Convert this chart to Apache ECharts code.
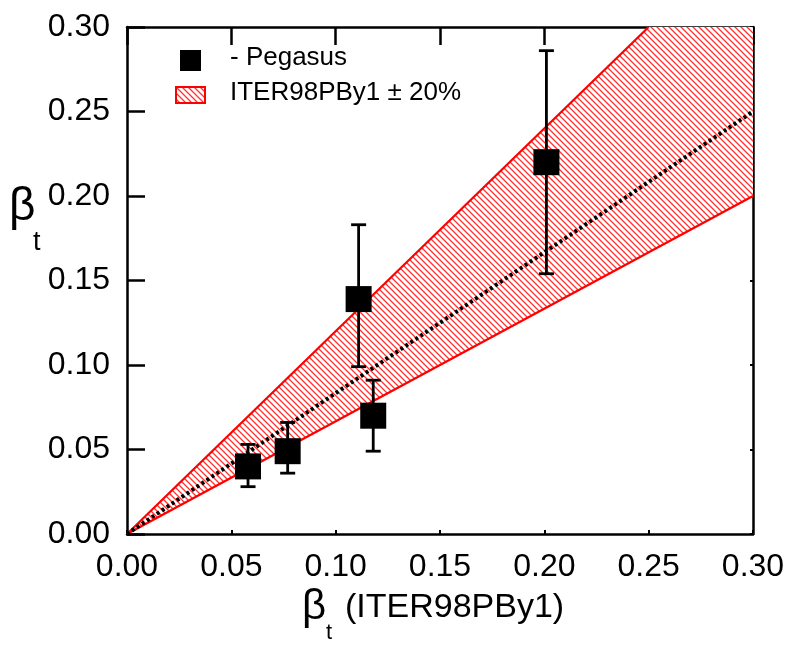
<!DOCTYPE html>
<html><head><meta charset="utf-8">
<script src="https://cdn.jsdelivr.net/npm/echarts@6/dist/echarts.min.js"></script>
<style>html,body{margin:0;padding:0;background:#fff}#c{width:788px;height:646px}</style>
</head><body><div id="c"></div>
<script>
// ---- data ----
const xTicks = [0, 0.05, 0.10, 0.15, 0.20, 0.25, 0.30];
const yTicks = [0, 0.05, 0.10, 0.15, 0.20, 0.25, 0.30];
const pegX = [0.058, 0.077, 0.111, 0.118, 0.201];
const pegY = [0.040, 0.049, 0.139, 0.070, 0.220];
const pegLow = [0.028, 0.036, 0.099, 0.049, 0.154];
const pegHigh = [0.053, 0.066, 0.183, 0.091, 0.286];
const bandX = [0, 0.25, 0.30];
const bandUpper = [0, 0.30, 0.30];
const bandLowerX = [0, 0.30];
const bandLower = [0, 0.20];
const centerX = [0, 0.30];
const centerY = [0, 0.25];

const FONT = 'Liberation Sans, Arial, Helvetica, sans-serif';

function makePattern() {
  const n = 6;
  const cv = document.createElement('canvas');
  cv.width = n; cv.height = n;
  const ctx = cv.getContext('2d');
  const img = ctx.createImageData(n, n);
  for (let y = 0; y < n; y++) for (let x = 0; x < n; x++) {
    const d = ((x - y) % n + n) % n;
    let c;
    if (d === 0) c = [255, 50, 50];
    else if (d === 1 || d === 5) c = [255, 165, 165];
    else c = [255, 255, 255];
    const k = (y * n + x) * 4;
    img.data[k] = c[0]; img.data[k+1] = c[1]; img.data[k+2] = c[2]; img.data[k+3] = 255;
  }
  ctx.putImageData(img, 0, 0);
  return cv;
}
const pat = makePattern();

const chart = echarts.init(document.getElementById('c'), null, {renderer: 'canvas'});

const axisCommon = {
  type: 'value', min: 0, max: 0.30, interval: 0.05,
  axisLine: {show: true, onZero: false, lineStyle: {color: '#000', width: 2.5}},
  splitLine: {show: false},
};

const option = {
  animation: false,
  backgroundColor: '#fff',
  grid: {left: 127, top: 27, right: 35, bottom: 112, containLabel: false},
  xAxis: [
    Object.assign({}, axisCommon, {
      position: 'bottom',
      axisTick: {show: true, inside: true, length: 4, lineStyle: {color: '#000', width: 2}},
      axisLabel: {show: true, fontSize: 32, color: '#000', fontFamily: FONT, margin: 17,
        formatter: v => v.toFixed(2)}
    }),
    Object.assign({}, axisCommon, {
      position: 'top',
      axisTick: {show: true, inside: true, length: 18, lineStyle: {color: '#000', width: 2.5}},
      axisLabel: {show: false}
    })
  ],
  yAxis: [
    Object.assign({}, axisCommon, {
      position: 'left',
      axisTick: {show: true, inside: true, length: 18, lineStyle: {color: '#000', width: 2.5}},
      axisLabel: {show: true, fontSize: 32, color: '#000', fontFamily: FONT, margin: 17,
        formatter: v => v.toFixed(2)}
    }),
    Object.assign({}, axisCommon, {
      position: 'right',
      axisTick: {show: true, inside: true, length: 3, lineStyle: {color: '#000', width: 2}},
      axisLabel: {show: false}
    })
  ],
  series: [
    {
      type: 'custom', name: 'band', z: 1,
      data: [0],
      renderItem: function (params, api) {
        const upper = bandX.map((x, i) => api.coord([x, bandUpper[i]]));
        const lower = bandLowerX.map((x, i) => api.coord([x, bandLower[i]])).reverse();
        const poly = upper.concat(lower);
        const upLine = upper.slice(0, 2);
        const loLine = bandLowerX.map((x, i) => api.coord([x, bandLower[i]]));
        return {
          type: 'group',
          children: [
            {type: 'polygon', shape: {points: poly}, style: {fill: {image: pat, repeat: 'repeat'}, stroke: null}},
            {type: 'polyline', shape: {points: upLine}, style: {stroke: '#ff0000', lineWidth: 2.2, fill: null}},
            {type: 'polyline', shape: {points: loLine}, style: {stroke: '#ff0000', lineWidth: 2.2, fill: null}}
          ]
        };
      }
    },
    {
      type: 'line', name: 'center', z: 2, symbol: 'none',
      data: centerX.map((x, i) => [x, centerY[i]]),
      lineStyle: {color: '#000', width: 4, type: [3, 3]}
    },
    {
      type: 'custom', name: 'err', z: 3,
      data: pegX.map((x, i) => [x, pegLow[i], pegHigh[i]]),
      renderItem: function (params, api) {
        const x = api.value(0);
        const lo = api.coord([x, api.value(1)]);
        const hi = api.coord([x, api.value(2)]);
        const w = 7.5;
        const st = {stroke: '#000', lineWidth: 2.8};
        return {
          type: 'group',
          children: [
            {type: 'line', shape: {x1: lo[0], y1: lo[1], x2: hi[0], y2: hi[1]}, style: st},
            {type: 'line', shape: {x1: lo[0] - w, y1: lo[1], x2: lo[0] + w, y2: lo[1]}, style: st},
            {type: 'line', shape: {x1: hi[0] - w, y1: hi[1], x2: hi[0] + w, y2: hi[1]}, style: st}
          ]
        };
      }
    },
    {
      type: 'scatter', name: 'Pegasus', z: 4,
      symbol: 'rect', symbolSize: 26,
      itemStyle: {color: '#000', opacity: 1},
      data: pegX.map((x, i) => [x, pegY[i]])
    }
  ],
  graphic: [
    {type: 'rect', left: 180, top: 50, shape: {width: 21, height: 21}, style: {fill: '#000'}},
    {type: 'rect', left: 175, top: 86, shape: {width: 29, height: 16}, style: {fill: {image: pat, repeat: 'repeat'}, stroke: '#ff0000', lineWidth: 2}},
    {type: 'text', left: 230, top: 45, style: {text: '- Pegasus', font: '26px ' + FONT, fill: '#000'}},
    {type: 'text', left: 230, top: 80, style: {text: 'ITER98PBy1 \u00b1 20%', font: '26px ' + FONT, fill: '#000'}},
    {type: 'text', left: 9, top: 184, style: {text: '\u03b2', font: '46px ' + FONT, fill: '#000'}},
    {type: 'text', left: 33, top: 229, style: {text: 't', font: '27px ' + FONT, fill: '#000'}},
    {type: 'text', left: 302, top: 586, style: {text: '\u03b2', font: '42px ' + FONT, fill: '#000'}},
    {type: 'text', left: 326, top: 622, style: {text: 't', font: '22px ' + FONT, fill: '#000'}},
    {type: 'text', left: 345, top: 591, style: {text: '(ITER98PBy1)', font: '34px ' + FONT, fill: '#000'}}
  ]
};
chart.setOption(option);
</script></body></html>
